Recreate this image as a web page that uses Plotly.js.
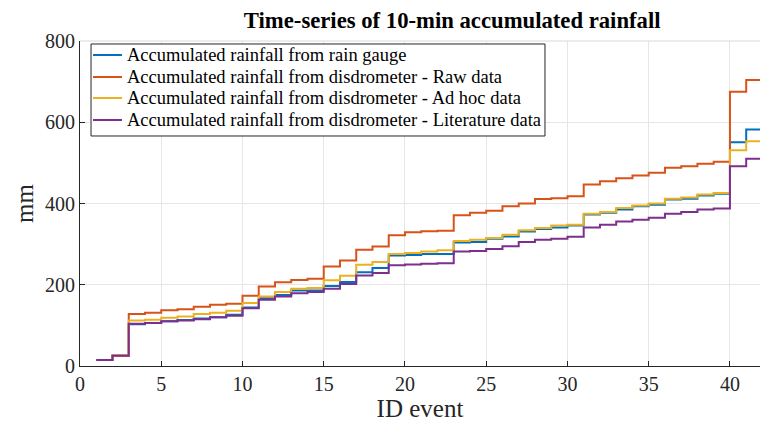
<!DOCTYPE html>
<html>
<head>
<meta charset="utf-8">
<script src="https://cdn.plot.ly/plotly-3.0.1.min.js"></script>
<style>html,body{margin:0;padding:0;background:#fff;}#chart{width:760px;height:426px;}</style>
</head>
<body>
<div id="chart"></div>
<script>
var idEvent = [1,2,3,4,5,6,7,8,9,10,11,12,13,14,15,16,17,18,19,20,21,22,23,24,25,26,27,28,29,30,31,32,33,34,35,36,37,38,39,40,41,42];

var rainGauge = [15,25,103,106,110,113,117,120,126,144,167,175,186,186,197,207,231,241,272,273,276,276,304,305,313,319,331,337,341,346,373,377,385,393,397,410,412,420,424,551,582,582];
var disdroRaw = [15,26,128,131,137,140,146,151,153,173,196,206,212,215,245,260,286,294,322,329,332,333,371,377,382,393,400,411,413,418,447,455,462,469,476,488,492,498,503,675,704,704];
var disdroAdHoc = [15,25,112,114,119,122,128,131,136,155,171,182,190,192,211,222,249,256,276,278,282,285,308,311,315,323,334,340,346,348,375,379,389,395,400,412,415,422,426,531,553,553];
var disdroLit = [15,25,104,106,110,112,115,120,124,142,163,171,179,182,190,202,223,229,248,250,252,253,282,283,288,295,305,311,313,318,341,348,356,360,365,375,379,385,388,492,510,510];

var seriesNames = [
  'Accumulated rainfall from rain gauge',
  'Accumulated rainfall from disdrometer - Raw data',
  'Accumulated rainfall from disdrometer - Ad hoc data',
  'Accumulated rainfall from disdrometer - Literature data'
];
var seriesColors = ['#0072BD','#D95319','#EDB120','#7E2F8E'];
var seriesData = [rainGauge, disdroRaw, disdroAdHoc, disdroLit];

var traces = seriesData.map(function(d, i){
  return {
    x: idEvent, y: d, type: 'scatter', mode: 'lines',
    line: {shape: 'hv', color: seriesColors[i], width: 2},
    name: seriesNames[i], showlegend: false
  };
});

var serif = '"Liberation Serif", "Times New Roman", serif';

// manual legend (box, samples, labels) in paper coordinates
var legBox = {x0: 0.0162, x1: 0.6838, y0: 0.7077, y1: 0.9908};
var legRows = [0.9569, 0.8892, 0.8246, 0.7569];
var shapes = [
  {type: 'line', xref: 'paper', yref: 'paper', x0: 0, x1: 1, y0: 1, y1: 1,
   line: {color: '#d9d9d9', width: 1}},
  {type: 'rect', xref: 'paper', yref: 'paper', x0: legBox.x0, x1: legBox.x1, y0: legBox.y0, y1: legBox.y1,
   line: {color: '#262626', width: 1}, fillcolor: '#ffffff', layer: 'above'}
];
var annotations = [];
seriesNames.forEach(function(n, i){
  shapes.push({type: 'line', xref: 'paper', yref: 'paper', x0: 0.0191, x1: 0.0618, y0: legRows[i], y1: legRows[i],
               line: {color: seriesColors[i], width: 2}, layer: 'above'});
  annotations.push({xref: 'paper', yref: 'paper', x: 0.0655, y: legRows[i], xanchor: 'left', yanchor: 'middle',
                    text: n, showarrow: false, font: {family: serif, size: 18.5, color: '#000'}});
});

var layout = {
  width: 760, height: 426,
  margin: {l: 80, r: 0, t: 41, b: 60},
  paper_bgcolor: '#ffffff', plot_bgcolor: '#ffffff',
  font: {family: serif, color: '#262626'},
  title: {text: '<b>Time-series of 10-min accumulated rainfall</b>',
          font: {family: serif, size: 22.7, color: '#000'},
          x: 0.595, xanchor: 'center', y: 0.953, yanchor: 'middle'},
  xaxis: {
    range: [0, 41.85], tickvals: [0,5,10,15,20,25,30,35,40],
    showgrid: true, gridcolor: '#e6e6e6', gridwidth: 1,
    zeroline: false, showline: true, linecolor: '#262626', linewidth: 1,
    ticks: 'inside', ticklen: 5, tickcolor: '#262626',
    tickfont: {family: serif, size: 20, color: '#262626'},
    title: {text: 'ID event', font: {family: serif, size: 25, color: '#262626'}, standoff: 4}
  },
  yaxis: {
    range: [0, 800], tickvals: [0,200,400,600,800],
    showgrid: true, gridcolor: '#e6e6e6', gridwidth: 1,
    zeroline: false, showline: true, linecolor: '#262626', linewidth: 1,
    ticks: 'inside', ticklen: 5, tickcolor: '#262626',
    tickfont: {family: serif, size: 20, color: '#262626'},
    title: {text: 'mm', font: {family: serif, size: 25, color: '#262626'}, standoff: 4}
  },
  shapes: shapes,
  annotations: annotations,
  showlegend: false
};

Plotly.newPlot('chart', traces, layout, {displayModeBar: false, staticPlot: true});
</script>
</body>
</html>
